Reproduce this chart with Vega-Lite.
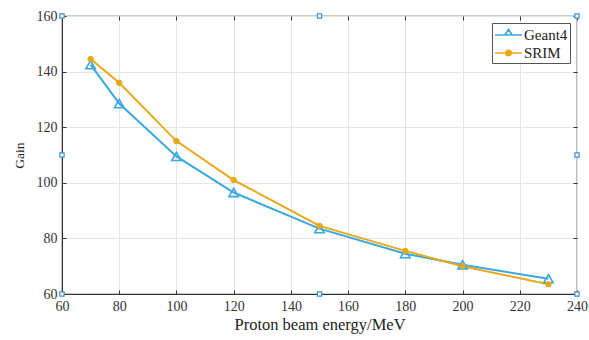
{
  "$schema": "https://vega.github.io/schema/vega-lite/v6.json",
  "width": 515,
  "height": 278,
  "autosize": {"type": "none"},
  "padding": {"left": 62, "top": 16, "right": 12, "bottom": 46},
  "background": "white",
  "config": {
    "font": "Liberation Serif",
    "view": {"stroke": "#333", "strokeWidth": 1.2},
    "axis": {
      "labelFont": "Liberation Serif",
      "titleFont": "Liberation Serif",
      "labelFontSize": 14,
      "titleFontSize": 16.5,
      "labelColor": "#333",
      "titleColor": "#222",
      "titleFontWeight": "normal",
      "domainColor": "#333",
      "tickColor": "#333",
      "tickSize": -4,
      "labelPadding": 9,
      "labelFlush": false,
      "labelOverlap": false,
      "labelBound": false,
      "gridColor": "#e4e4e4",
      "gridWidth": 1
    },
    "legend": {
      "labelFont": "Liberation Serif",
      "titleFont": "Liberation Serif"
    }
  },
  "datasets": {
    "main": [
      {"energy": 70, "gain": 142.5, "series": "Geant4"},
      {"energy": 80, "gain": 128.5, "series": "Geant4"},
      {"energy": 100, "gain": 109.5, "series": "Geant4"},
      {"energy": 120, "gain": 96.5, "series": "Geant4"},
      {"energy": 150, "gain": 83.5, "series": "Geant4"},
      {"energy": 180, "gain": 74.5, "series": "Geant4"},
      {"energy": 200, "gain": 70.5, "series": "Geant4"},
      {"energy": 230, "gain": 65.5, "series": "Geant4"},
      {"energy": 70, "gain": 144.5, "series": "SRIM"},
      {"energy": 80, "gain": 136, "series": "SRIM"},
      {"energy": 100, "gain": 115, "series": "SRIM"},
      {"energy": 120, "gain": 101, "series": "SRIM"},
      {"energy": 150, "gain": 84.5, "series": "SRIM"},
      {"energy": 180, "gain": 75.5, "series": "SRIM"},
      {"energy": 200, "gain": 70, "series": "SRIM"},
      {"energy": 230, "gain": 63.5, "series": "SRIM"}
    ],
    "handles": [
      {"energy": 60, "gain": 160},
      {"energy": 150, "gain": 160},
      {"energy": 240, "gain": 160},
      {"energy": 60, "gain": 110},
      {"energy": 240, "gain": 110},
      {"energy": 60, "gain": 60},
      {"energy": 150, "gain": 60},
      {"energy": 240, "gain": 60}
    ]
  },
  "resolve": {"axis": {"x": "independent", "y": "independent"}},
  "layer": [
    {
      "data": {"name": "main"},
      "mark": {"type": "line", "strokeWidth": 2},
      "encoding": {
        "x": {"field": "energy", "type": "quantitative", "scale": {"domain": [60, 240], "nice": false}, "axis": {"title": "Proton beam energy/MeV", "values": [60, 80, 100, 120, 140, 160, 180, 200, 220, 240], "titlePadding": 3}},
        "y": {"field": "gain", "type": "quantitative", "scale": {"domain": [60, 160], "nice": false, "zero": false}, "axis": {"title": "Gain", "titleFontSize": 13.5, "values": [60, 80, 100, 120, 140, 160], "titlePadding": 10}},
        "color": {
          "field": "series", "type": "nominal",
          "scale": {"domain": ["Geant4", "SRIM"], "range": ["#3aa8e0", "#e9a71a"]},
          "legend": {
            "title": null,
            "orient": "top-right",
            "offset": 7,
            "padding": 2,
            "strokeColor": "#555",
            "fillColor": "white",
            "labelFontSize": 15,
            "labelColor": "#222",
            "symbolSize": 324,
            "symbolStrokeWidth": 1.7,
            "rowPadding": 0,
            "labelOffset": 10,
            "encode": {
              "symbols": {
                "update": {
                  "shape": {"signal": "datum.value === 'Geant4' ? 'M-1,0L2,0M0.1,0L0.5,-0.6L0.9,0Z' : 'M-1,0L2,0M0.8,0A0.3,0.3 0 1 1 0.2,0A0.3,0.3 0 1 1 0.8,0Z'"},
                  "fill": {"signal": "datum.value === 'Geant4' ? 'transparent' : '#e9a71a'"},
                  "stroke": {"signal": "datum.value === 'Geant4' ? '#3aa8e0' : '#e9a71a'"},
                  "opacity": {"value": 1}
                }
              }
            }
          }
        }
      }
    },
    {
      "data": {"name": "main"},
      "transform": [{"filter": "datum.series === 'Geant4'"}],
      "mark": {"type": "point", "shape": "triangle-up", "size": 90, "stroke": "#3aa8e0", "fill": "white", "fillOpacity": 0, "filled": false, "opacity": 1, "strokeWidth": 1.6},
      "encoding": {
        "x": {"field": "energy", "type": "quantitative", "axis": null},
        "y": {"field": "gain", "type": "quantitative", "axis": null}
      }
    },
    {
      "data": {"name": "main"},
      "transform": [{"filter": "datum.series === 'SRIM'"}],
      "mark": {"type": "point", "shape": "circle", "size": 30, "stroke": "#e9a71a", "fill": "#e9a71a", "filled": true, "opacity": 1, "strokeWidth": 1},
      "encoding": {
        "x": {"field": "energy", "type": "quantitative", "axis": null},
        "y": {"field": "gain", "type": "quantitative", "axis": null}
      }
    },
    {
      "data": {"name": "handles"},
      "mark": {"type": "point", "shape": "square", "size": 18, "filled": false, "stroke": "#3a8fd0", "fill": "white", "strokeWidth": 1.2, "opacity": 1},
      "encoding": {
        "x": {"field": "energy", "type": "quantitative", "axis": {"orient": "top", "title": null, "labels": false, "grid": false, "domain": false, "values": [60, 80, 100, 120, 140, 160, 180, 200, 220, 240]}},
        "y": {"field": "gain", "type": "quantitative", "axis": {"orient": "right", "title": null, "labels": false, "grid": false, "domain": false, "values": [60, 80, 100, 120, 140, 160]}}
      }
    }
  ]
}
